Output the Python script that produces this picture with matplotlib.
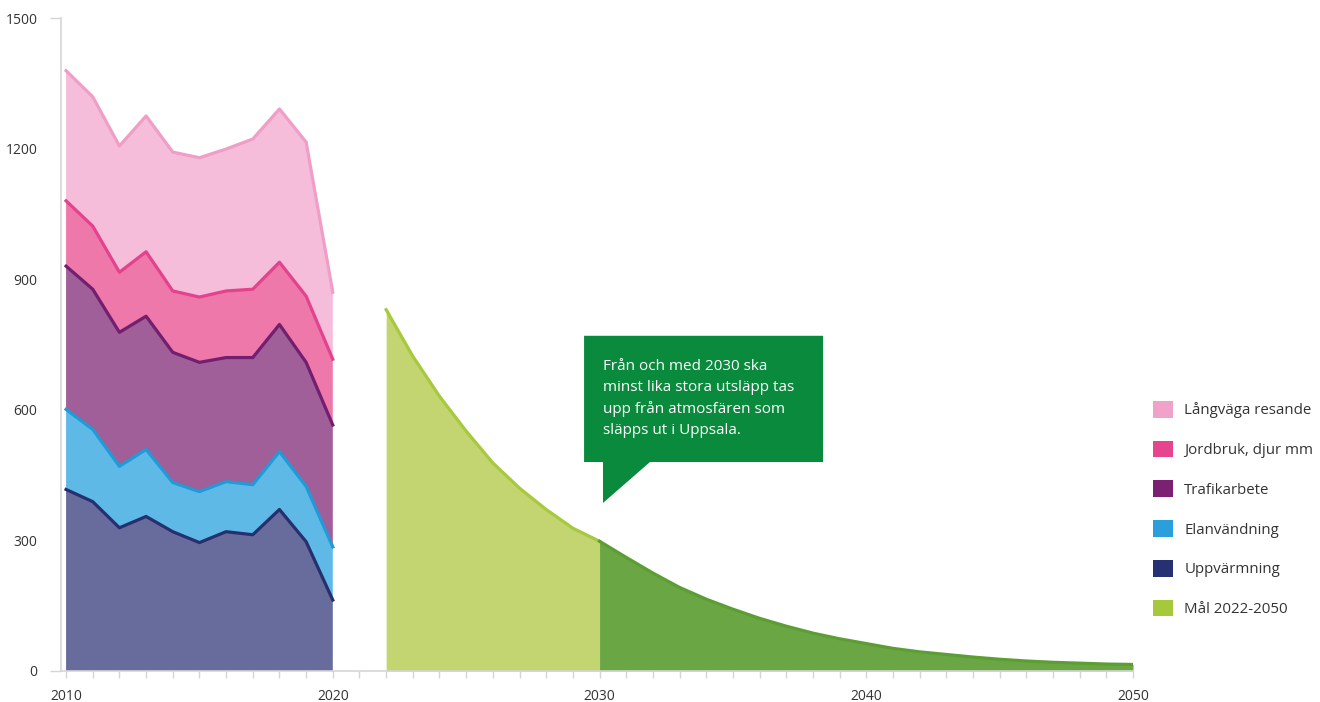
import numpy as np
import matplotlib.pyplot as plt
from matplotlib.patches import Patch, Polygon

plt.rcParams['font.family'] = ['Open Sans', 'DejaVu Sans']

# utsläpp per sektor 2010-2020 (kton)
years = np.arange(2010, 2021)
uppvarmning = [417, 389, 329, 355, 320, 295, 320, 313, 371, 297, 163]
elanvandning = [184, 166, 141, 154, 113, 117, 115, 115, 133, 127, 122]
trafikarbete = [329, 322, 308, 306, 299, 297, 285, 292, 292, 285, 280]
jordbruk = [150, 145, 138, 148, 141, 150, 153, 157, 143, 152, 151]
langvaga = [299, 297, 290, 312, 319, 320, 326, 345, 352, 354, 154]

# mål 2022-2050
mal_years = np.arange(2022, 2051)
mal = [830, 723, 631, 551, 478, 420, 371, 328, 298, 261, 225, 192, 165, 142,
       121, 103, 87, 74, 63, 52, 44, 38, 32, 27, 23, 20, 18, 16, 15]

labels = ['Uppvärmning', 'Elanvändning', 'Trafikarbete', 'Jordbruk, djur mm',
          'Långväga resande']
fills = ['#676c9c', '#5fb9e7', '#a05f98', '#ee78aa', '#f5bdda']
lines = ['#27306e', '#1f9bd8', '#731f6f', '#e4428c', '#ef9fc6']
legend_cols = ['#263072', '#2a9fdb', '#7b2072', '#e7448e', '#f0a2c8']

grey = '#d5d5d5'
txt = '#333333'

fig = plt.figure(figsize=(13.2, 7.02), dpi=100)
ax = fig.add_axes([61/1320, 1 - 671/702, (1133 - 61)/1320, (671 - 18)/702])

# staplade ytor
stack = np.vstack([uppvarmning, elanvandning, trafikarbete, jordbruk, langvaga])
ax.stackplot(years, stack, colors=fills, linewidth=0)
tops = np.cumsum(stack, axis=0)
for top, c in zip(tops, lines):
    ax.plot(years, top, color=c, lw=2.3, solid_joinstyle='round')

# målkurva, ljus fram till 2030, mörk efter
mal = np.array(mal)
i30 = list(mal_years).index(2030)
ax.fill_between(mal_years[:i30 + 1], mal[:i30 + 1], color='#c2d570', lw=0)
ax.fill_between(mal_years[i30:], mal[i30:], color='#6aa744', lw=0)
ax.plot(mal_years[:i30 + 1], mal[:i30 + 1], color='#a8c93d', lw=2.3)
ax.plot(mal_years[i30:], mal[i30:], color='#5c9e34', lw=2.3)

# pratbubbla
L, R, T, B = 2029.42, 2038.38, 770, 480
bubble = Polygon([(L, T), (R, T), (R, B), (2031.89, B), (2030.13, 386),
                  (2030.13, B), (L, B)], closed=True, facecolor='#0a8a3c',
                 edgecolor='none', zorder=5)
ax.add_patch(bubble)
ax.text(2030.13, 716, 'Från och med 2030 ska\nminst lika stora utsläpp tas\n'
        'upp från atmosfären som\nsläpps ut i Uppsala.',
        color='white', fontsize=11, va='top', ha='left', linespacing=1.52,
        zorder=6)

# axlar
ax.set_xlim(2009.81, 2050)
ax.set_ylim(0, 1500)
ax.set_xticks(range(2010, 2051, 10))
ax.set_xticks(range(2010, 2051), minor=True)
ax.set_yticks(range(0, 1501, 300))
ax.set_yticks([0, 1500], minor=True)
ax.yaxis.remove_overlapping_locs = False
ax.tick_params(axis='x', which='both', length=5, width=1, color=grey,
               pad=8, labelsize=10, labelcolor=txt)
ax.tick_params(axis='y', which='major', length=0, pad=17, labelsize=10,
               labelcolor=txt)
ax.tick_params(axis='y', which='minor', length=8, width=1, color=grey)
for s in ['top', 'right']:
    ax.spines[s].set_visible(False)
for s in ['left', 'bottom']:
    ax.spines[s].set_color(grey)
    ax.spines[s].set_linewidth(1.2)

# förklaring
handles = [Patch(facecolor=c, edgecolor='none', label=l)
           for c, l in zip(legend_cols[::-1], labels[::-1])]
handles.append(Patch(facecolor='#a6c93c', edgecolor='none', label='Mål 2022-2050'))
fig.legend(handles=handles, loc='upper left',
           bbox_to_anchor=(1153/1320, 1 - 401/702), frameon=False,
           fontsize=10.8, labelcolor=txt, handlelength=1.34, handleheight=1.34,
           handletextpad=0.75, labelspacing=1.49, borderpad=0, borderaxespad=0)

fig.savefig('out.png', dpi=100)
